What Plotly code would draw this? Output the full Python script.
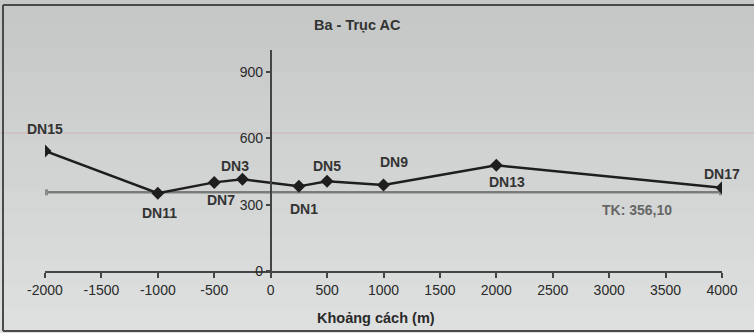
import plotly.graph_objects as go

# Data
names = ["DN15", "DN11", "DN7", "DN3", "DN1", "DN5", "DN9", "DN13", "DN17"]
dist = [-2000, -1000, -500, -250, 250, 500, 1000, 2000, 4000]
values = [543, 352, 401, 415, 383, 406, 389, 478, 377]
tk_x = [-2000, 4000]
tk_value = 356.10
tk_label = "TK: 356,10"
x_ticks = [-2000, -1500, -1000, -500, 0, 500, 1000, 1500, 2000, 2500, 3000, 3500, 4000]
y_ticks = [0, 300, 600, 900]

# label offsets (px) per point
label_dx = [0, 2, 7, -7, 5, 0, 10, 11, 0]
label_dy = [22, -20, -18, 13, -23, 15, 23, -17, 14]

W, H = 754, 333
ml, mr, mt, mb = 45, 32, 50, 62
pw = W - ml - mr
ph = H - mt - mb

def px2paper_x(px):
    return (px - ml) / pw

def py2paper_y(py):
    return (H - mb - py) / ph

font_family = "Liberation Sans, Arial, sans-serif"

fig = go.Figure()

fig.add_trace(go.Scatter(
    x=tk_x, y=[tk_value] * len(tk_x), mode="lines+markers",
    line=dict(color="#7a7c7b", width=2.5),
    marker=dict(symbol="square", size=6, color="#8a8c8b"),
    hoverinfo="skip", showlegend=False,
))
fig.add_trace(go.Scatter(
    x=dist, y=values, mode="lines+markers",
    line=dict(color="#1e1e1e", width=2.5),
    marker=dict(symbol="diamond", size=10, color="#1e1e1e"),
    showlegend=False,
))

annotations = []
for n, xv, yv, dx, dy in zip(names, dist, values, label_dx, label_dy):
    annotations.append(dict(
        x=xv, y=yv, xref="x", yref="y", text="<b>" + n + "</b>", showarrow=False,
        xanchor="center", yanchor="middle",
        xshift=dx, yshift=dy, font=dict(family=font_family, size=14, color="#333333"),
    ))
annotations.append(dict(
    x=3250, y=tk_value, xref="x", yref="y", text="<b>" + tk_label + "</b>", showarrow=False,
    xanchor="center", yanchor="middle",
    yshift=-18, font=dict(family=font_family, size=14, color="#666666"),
))
annotations.append(dict(
    x=px2paper_x(357), y=py2paper_y(25), xref="paper", yref="paper",
    xanchor="center", yanchor="middle",
    text="<b>Ba - Trục AC</b>", showarrow=False,
    font=dict(family=font_family, size=14.5, color="#333333"),
))
annotations.append(dict(
    x=px2paper_x(376), y=py2paper_y(318), xref="paper", yref="paper",
    xanchor="center", yanchor="middle",
    text="<b>Khoảng cách (m)</b>", showarrow=False,
    font=dict(family=font_family, size=14.5, color="#2a2a2a"),
))

# background gradient bands (scanned look)
shapes = []
top_c = (198, 200, 199)
bot_c = (222, 224, 223)
nb = 14
for i in range(nb):
    t = i / (nb - 1)
    c = tuple(int(top_c[k] + (bot_c[k] - top_c[k]) * t) for k in range(3))
    y0 = H * i / nb
    y1 = H * (i + 1) / nb
    shapes.append(dict(
        type="rect", xref="paper", yref="paper", layer="below",
        x0=px2paper_x(0), x1=px2paper_x(W), y0=py2paper_y(y1 + 1), y1=py2paper_y(y0),
        fillcolor="rgb(%d,%d,%d)" % c, line=dict(width=0),
    ))
# faint scan line
shapes.append(dict(type="line", xref="paper", yref="paper", layer="below",
                   x0=px2paper_x(0), x1=px2paper_x(W), y0=py2paper_y(133), y1=py2paper_y(133),
                   line=dict(color="rgba(205,165,165,0.4)", width=1.5)))
# border
for (xa, ya, xb, yb) in [(3, 5, W, 5), (3, 5, 3, 331), (3, 331, W, 331)]:
    shapes.append(dict(type="line", xref="paper", yref="paper",
                       x0=px2paper_x(xa), x1=px2paper_x(xb), y0=py2paper_y(ya), y1=py2paper_y(yb),
                       line=dict(color="#4a4a4a", width=2)))

fig.update_layout(
    width=W, height=H,
    margin=dict(l=ml, r=mr, t=mt, b=mb),
    paper_bgcolor="rgb(208,210,209)",
    plot_bgcolor="rgba(0,0,0,0)",
    font=dict(family=font_family, size=12, color="#333333"),
    annotations=annotations,
    shapes=shapes,
    xaxis=dict(
        range=[-2000, 4000], tickvals=x_ticks, ticktext=[str(v) for v in x_ticks],
        showgrid=False, zeroline=False, showline=True, linecolor="#444444", linewidth=1.5,
        ticks="outside", ticklen=5, tickcolor="#444444", tickwidth=1.5,
        tickfont=dict(family=font_family, size=14, color="#2a2a2a"),
        fixedrange=True,
    ),
    yaxis=dict(
        range=[0, 1000], tickvals=y_ticks, ticktext=[str(v) for v in y_ticks],
        anchor="free", position=1/3,
        showgrid=False, zeroline=False, showline=True, linecolor="#444444", linewidth=1.5,
        ticks="outside", ticklen=4, tickcolor="#444444", tickwidth=1.5,
        tickfont=dict(family=font_family, size=14, color="#2a2a2a"),
        fixedrange=True,
    ),
)

fig.write_html("out.html")
